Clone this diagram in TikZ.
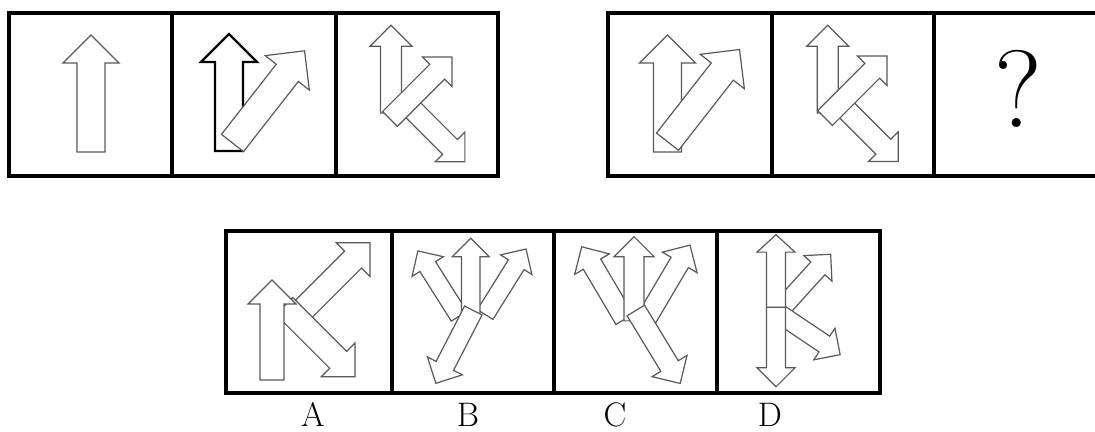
\documentclass[tikz,border=0pt]{standalone}
\begin{document}
\begin{tikzpicture}[
    x=0.5pt, y=0.5pt,
    frame/.style={draw=black, line width=1.8pt},
    arr/.style={draw=black!65, line width=0.6pt, fill=white, line join=miter},
    boldarr/.style={arr, draw=black, line width=1.1pt},
    letter/.style={font=\fontsize{17}{17}\selectfont, inner sep=0pt},
    pics/blk/.style={code={\draw[arr,#1] (0,-14) -- (89,-14) -- (89,-28) -- (117,0) -- (89,28) -- (89,14) -- (0,14) -- cycle;}},
    pics/blk/.default=arr
  ]
  \useasboundingbox (0,0) rectangle (1095,432);

  \draw[frame] (9,256) rectangle (498,419);
  \draw[frame] (172,256) -- (172,419);
  \draw[frame] (336,256) -- (336,419);
  \draw[frame] (608,256) rectangle (1097,419);
  \draw[frame] (772,256) -- (772,419);
  \draw[frame] (934,256) -- (934,419);
  \draw[frame] (226,39) rectangle (880,201);
  \draw[frame] (392,39) -- (392,201);
  \draw[frame] (554,39) -- (554,201);
  \draw[frame] (717,39) -- (717,201);

  \pic[rotate=90] at (91,280) {blk};

  \pic[rotate=90] at (229,281) {blk=boldarr};
  \pic[rotate=52] at (232.5,289) {blk};

  \pic[rotate=90, scale=0.75] at (391,319) {blk};
  \pic[rotate=-45, scale=0.75] at (402.8,332.2) {blk};
  \pic[rotate=45, scale=0.75] at (390,313) {blk};

  \pic[rotate=90] at (667.5,280) {blk};
  \pic[rotate=52] at (667.5,290.3) {blk};

  \pic[rotate=90, scale=0.75] at (827.8,319) {blk};
  \pic[rotate=-45, scale=0.75] at (836.1,332.5) {blk};
  \pic[rotate=45, scale=0.75] at (825,314) {blk};

  \node[font=\fontsize{55}{55}\selectfont, inner sep=0pt] (qmark) at (1018,343) {?};

  \pic[rotate=45, scale=0.855] at (299.3,118.6) {blk};
  \pic[rotate=-45, scale=0.855] at (284.3,126) {blk};
  \pic[rotate=90, scale=0.855] at (272,52) {blk};

  \pic[rotate=122.3, scale=0.66] at (459.1,115.8) {blk};
  \pic[rotate=58, scale=0.66] at (485.1,117.5) {blk};
  \pic[rotate=90, scale=0.66] at (470.7,116.5) {blk};
  \pic[rotate=242.8, scale=0.7] at (473.3,121.5) {blk};

  \pic[rotate=120.6, scale=0.72] at (624.6,112.7) {blk};
  \pic[rotate=59.4, scale=0.72] at (647.1,114.4) {blk};
  \pic[rotate=90, scale=0.72] at (634,111.1) {blk};
  \pic[rotate=-58.7, scale=0.73] at (635.8,121.5) {blk};

  \pic[rotate=47.8, scale=0.68] at (777.2,118.8) {blk};
  \pic[rotate=-33.9, scale=0.68] at (774.1,121.7) {blk};
  \pic[rotate=270, scale=0.68] at (776,124.7) {blk};
  \pic[rotate=90, xscale=0.62, yscale=0.68] at (776,124.7) {blk};

  \node[letter] (labA) at (313,17.5) {A};
  \node[letter] (labB) at (468,17.5) {B};
  \node[letter] (labC) at (615,17.5) {C};
  \node[letter] (labD) at (770,17.5) {D};
\end{tikzpicture}
\end{document}
